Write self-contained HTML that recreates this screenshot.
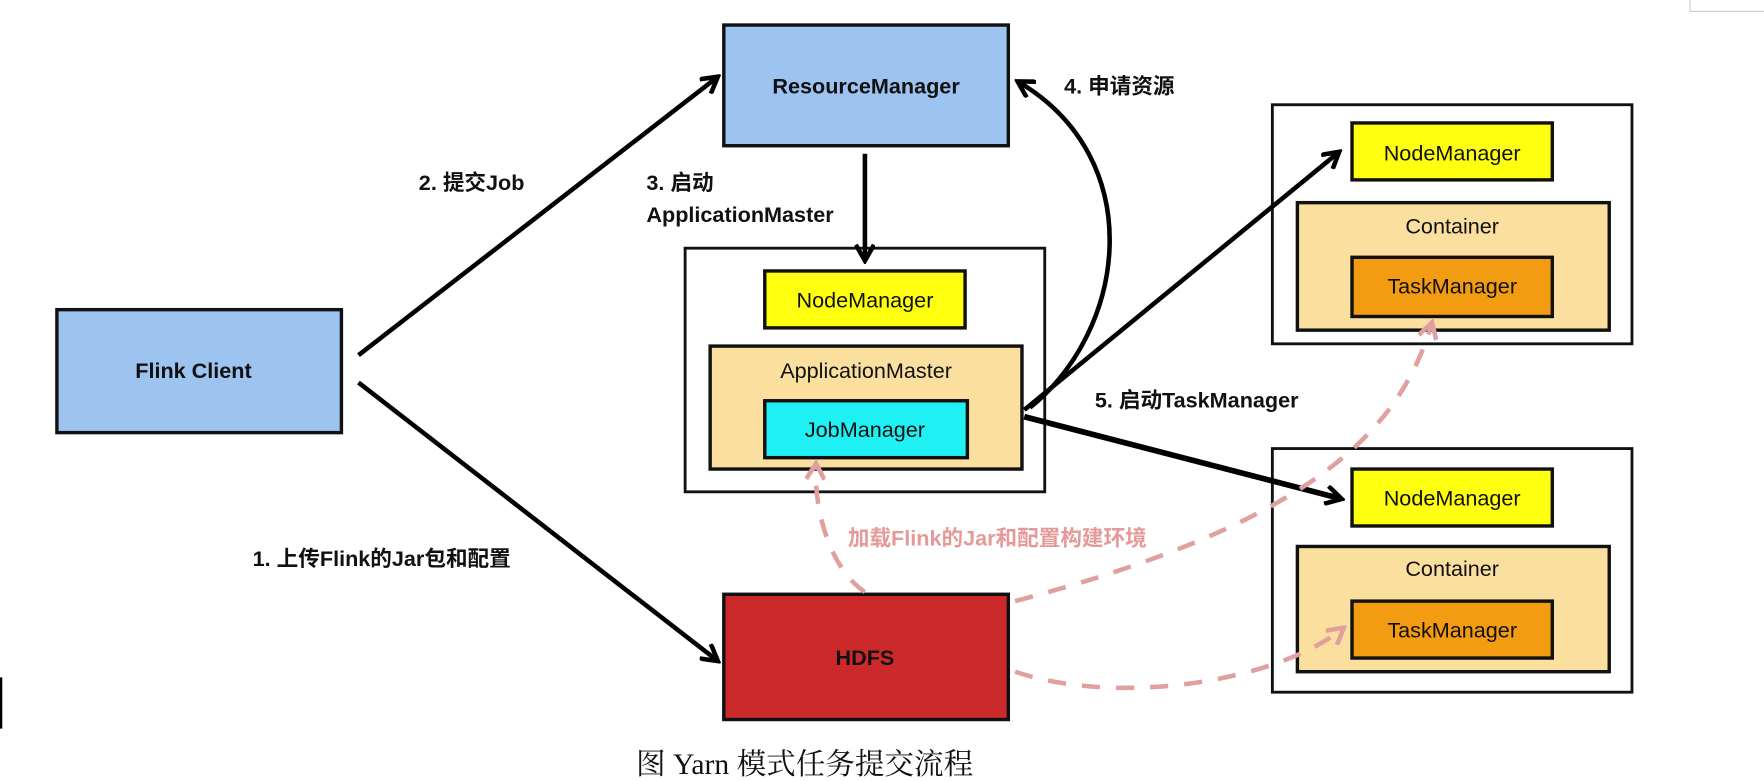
<!DOCTYPE html>
<html><head><meta charset="utf-8"><style>
html,body{margin:0;padding:0;background:#fff;}
svg{display:block}
.t{font-family:"Liberation Sans","Noto Sans CJK SC",sans-serif;font-size:19px;fill:#111;}
.b{font-weight:bold}
</style></head><body>
<svg width="1764" height="781" viewBox="0 0 1550 686" preserveAspectRatio="none" xmlns="http://www.w3.org/2000/svg">
<defs>
<marker id="ah" markerWidth="18" markerHeight="18" refX="14" refY="9" orient="auto" markerUnits="userSpaceOnUse" viewBox="0 0 18 18"><path d="M1,1 L15,9 L1,17" fill="none" stroke="#000" stroke-width="4"/></marker>
<marker id="ahp" markerWidth="18" markerHeight="18" refX="14" refY="9" orient="auto" markerUnits="userSpaceOnUse" viewBox="0 0 18 18"><path d="M1,1 L15,9 L1,17" fill="none" stroke="#e0a0a0" stroke-width="4"/></marker>
</defs>
<rect x="1485" y="-2" width="70" height="12" fill="none" stroke="#ccc"/>
<rect x="0" y="595" width="2" height="45" fill="#000"/>
<rect x="636" y="22" width="250" height="106" fill="#9dc3f0" stroke="#111" stroke-width="3"/>
<text x="761" y="82" class="t b" text-anchor="middle">ResourceManager</text>
<rect x="50" y="272" width="250" height="108" fill="#9dc3f0" stroke="#111" stroke-width="3"/>
<text x="170" y="332" class="t b" text-anchor="middle">Flink Client</text>
<rect x="636" y="522" width="250" height="110" fill="#cc2a2a" stroke="#111" stroke-width="3"/>
<text x="760" y="584" class="t b" text-anchor="middle">HDFS</text>

<rect x="602" y="218" width="316" height="214" fill="#fff" stroke="#111" stroke-width="2.5"/>
<rect x="672" y="238" width="176" height="50" fill="#ffff10" stroke="#111" stroke-width="3"/>
<text x="760" y="270" class="t" text-anchor="middle">NodeManager</text>
<rect x="624" y="304" width="274" height="108" fill="#fbdf9f" stroke="#111" stroke-width="3"/>
<text x="761" y="332" class="t" text-anchor="middle">ApplicationMaster</text>
<rect x="672" y="352" width="178" height="50" fill="#1ff0f4" stroke="#111" stroke-width="3"/>
<text x="760" y="384" class="t" text-anchor="middle">JobManager</text>

<rect x="1118" y="92" width="316" height="210" fill="#fff" stroke="#111" stroke-width="2.5"/>
<rect x="1188" y="108" width="176" height="50" fill="#ffff10" stroke="#111" stroke-width="3"/>
<text x="1276" y="141" class="t" text-anchor="middle">NodeManager</text>
<rect x="1140" y="178" width="274" height="112" fill="#fbdf9f" stroke="#111" stroke-width="3"/>
<text x="1276" y="205" class="t" text-anchor="middle">Container</text>
<rect x="1188" y="226" width="176" height="52" fill="#f39c12" stroke="#111" stroke-width="3"/>
<text x="1276" y="258" class="t" text-anchor="middle">TaskManager</text>

<rect x="1118" y="394" width="316" height="214" fill="#fff" stroke="#111" stroke-width="2.5"/>
<rect x="1188" y="412" width="176" height="50" fill="#ffff10" stroke="#111" stroke-width="3"/>
<text x="1276" y="444" class="t" text-anchor="middle">NodeManager</text>
<rect x="1140" y="480" width="274" height="110" fill="#fbdf9f" stroke="#111" stroke-width="3"/>
<text x="1276" y="506" class="t" text-anchor="middle">Container</text>
<rect x="1188" y="528" width="176" height="50" fill="#f39c12" stroke="#111" stroke-width="3"/>
<text x="1276" y="560" class="t" text-anchor="middle">TaskManager</text>

<g stroke="#000" stroke-width="4" fill="none" marker-end="url(#ah)">
<line x1="315" y1="312" x2="630" y2="68"/>
<line x1="315" y1="336" x2="630" y2="580"/>
<line x1="760" y1="135" x2="760" y2="228"/>
<path d="M905,358 C990,290 1010,140 895,72"/>
<line x1="900" y1="360" x2="1176" y2="134"/>
<line x1="900" y1="366" x2="1178" y2="438" stroke-width="5"/>
</g>
<g stroke="#e0a0a0" stroke-width="4" fill="none" stroke-dasharray="16,14" marker-end="url(#ahp)">
<path d="M892,528 C1150,460 1230,380 1258,284"/>
<path d="M892,590 C980,620 1120,600 1180,552"/>
<path d="M760,520 C730,500 715,450 717,408"/>
</g>
<text x="368" y="167" class="t b" font-size="17">2. 提交Job</text>
<text x="568" y="167" class="t b" font-size="17">3. 启动</text>
<text x="568" y="195" class="t b" font-size="17">ApplicationMaster</text>
<text x="935" y="82" class="t b" font-size="17">4. 申请资源</text>
<text x="962" y="358" class="t b" font-size="17">5. 启动TaskManager</text>
<text x="222" y="497" class="t b" font-size="17">1. 上传Flink的Jar包和配置</text>
<text x="745" y="479" class="t b" font-size="17" style="fill:#e59a9a">加载Flink的Jar和配置构建环境</text>
<text x="707" y="680" text-anchor="middle" font-family="'Liberation Serif','Noto Serif CJK SC',serif" font-size="26" fill="#111">图 Yarn 模式任务提交流程</text>
</svg>
</body></html>
